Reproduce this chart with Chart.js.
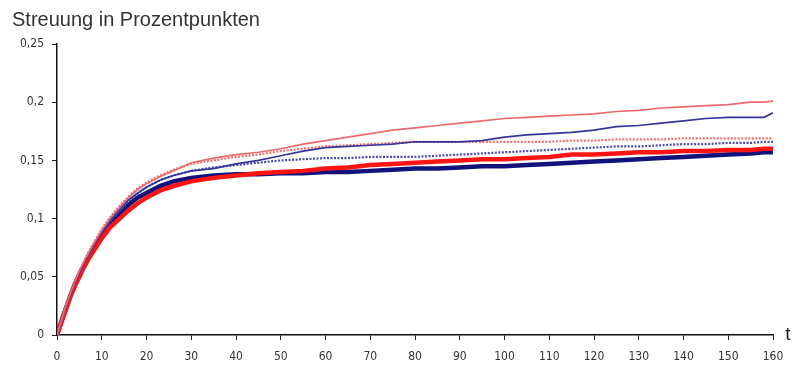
<!DOCTYPE html>
<html>
<head>
<meta charset="utf-8">
<script src="https://cdn.jsdelivr.net/npm/chart.js@4/dist/chart.umd.min.js"></script>
<style>
html,body{margin:0;padding:0;background:#fff;}
#wrap{width:796px;height:367px;}
</style>
</head>
<body>
<div id="wrap"><canvas id="c" width="796" height="367"></canvas></div>
<script>
const titleText = 'Streuung in Prozentpunkten';
const xAxisLabel = 't';
const yTickLabels = ['0', '0,05', '0,1', '0,15', '0,2', '0,25'];
const tValues = [0,1,2,3,4,5,6,7,8,10,12,14,16,18,20,23,26,30,35,40,45,50,55,60,65,70,75,80,85,90,95,100,105,110,115,120,125,130,135,140,145,150,155,158,160];

const redThin = [0,.013,.025,.036,.046,.055,.063,.070,.077,.090,.101,.110,.118,.125,.130,.136,.141,.148,
  .152,.155,.157,.160,.164,.167,.170,.173,.176,.178,.180,.182,.184,.186,.187,.188,.189,.190,.192,.193,.195,.196,.197,.198,.200,.200,.201];
const blueThin = [0,.013,.024,.035,.045,.054,.062,.069,.076,.088,.099,.108,.116,.122,.127,.133,.137,.141,
  .143,.147,.150,.154,.158,.161,.162,.163,.164,.166,.166,.166,.167,.170,.172,.173,.174,.176,.179,.180,.182,.184,.186,.187,.187,.187,.191];
const redDotted = [0,.013,.025,.036,.046,.055,.063,.071,.078,.091,.102,.111,.119,.126,.131,.137,.142,.147,
  .150,.153,.155,.158,.160,.162,.163,.164,.165,.166,.166,.166,.166,.166,.166,.166,.167,.167,.168,.168,.168,.169,.169,.169,.169,.169,.169];
const blueDotted = [0,.012,.024,.035,.045,.053,.061,.068,.075,.087,.098,.107,.115,.121,.127,.133,.137,.141,
  .144,.146,.148,.150,.151,.152,.152,.153,.153,.153,.154,.155,.156,.157,.158,.159,.160,.161,.162,.162,.163,.164,.164,.165,.165,.166,.166];
const redThick = [0,.011,.022,.033,.042,.050,.058,.065,.071,.083,.093,.100,.107,.113,.118,.124,.128,.132,
  .135,.137,.139,.140,.141,.143,.144,.146,.147,.148,.149,.150,.151,.151,.152,.153,.155,.155,.156,.157,.157,.158,.158,.159,.159,.160,.160];
const blueThick = [0,.012,.023,.034,.044,.052,.060,.067,.074,.086,.096,.104,.112,.118,.122,.128,.132,.135,
  .137,.138,.138,.139,.139,.140,.140,.141,.142,.143,.143,.144,.145,.145,.146,.147,.148,.149,.150,.151,.152,.153,.154,.155,.156,.157,.157];

function pts(arr){ return tValues.map((t,i)=>({x:t,y:arr[i]})); }

const tickFont = {family:"'Liberation Sans Narrow','DejaVu Sans Condensed','Liberation Sans',sans-serif", size:12};

const axisLabelPlugin = {
  id:'axisLabel',
  afterDraw(chart){
    const ctx = chart.ctx, a = chart.chartArea;
    ctx.save();
    ctx.font = "19px 'Liberation Sans', Arial, sans-serif";
    ctx.fillStyle = '#222';
    ctx.textAlign = 'center';
    ctx.textBaseline = 'middle';
    ctx.fillText(xAxisLabel, a.right + 15, a.bottom);
    ctx.restore();
  }
};

new Chart(document.getElementById('c'), {
  type:'line',
  data:{
    datasets:[
      {label:'A', data:pts(redThin), borderColor:'#ec6a6a', borderWidth:1.7},
      {label:'B', data:pts(blueThin), borderColor:'#35359a', borderWidth:1.7},
      {label:'C', data:pts(redDotted), borderColor:'#ee7070', borderWidth:2.2, borderDash:[2,1.5]},
      {label:'D', data:pts(blueDotted), borderColor:'#4a4aaa', borderWidth:2.2, borderDash:[2,1.5]},
      {label:'E', data:pts(redThick), borderColor:'#ff1414', borderWidth:4.5},
      {label:'F', data:pts(blueThick), borderColor:'#12127c', borderWidth:4.5}
    ]
  },
  options:{
    responsive:false,
    animation:false,
    layout:{padding:{left:12, right:23, top:0, bottom:0}},
    elements:{point:{radius:0}, line:{tension:0}},
    plugins:{
      legend:{display:false},
      tooltip:{enabled:false},
      title:{display:true, text:titleText, align:'start', color:'#333',
        font:{family:"'Liberation Sans', Arial, sans-serif", size:20, weight:'normal', lineHeight:1.2},
        padding:{top:8, bottom:12}}
    },
    scales:{
      x:{type:'linear', min:0, max:160,
        ticks:{stepSize:10, color:'#333', font:tickFont, padding:10, maxRotation:0, autoSkip:false},
        grid:{display:true, drawOnChartArea:false, drawTicks:true, tickLength:5, color:'#222'},
        border:{display:true, color:'#111', width:1.5},
        afterFit(s){ s.height = 32; }
      },
      y:{type:'linear', min:0, max:0.25,
        ticks:{stepSize:0.05, color:'#333', font:tickFont, padding:8,
          callback:(v,i)=>yTickLabels[i]},
        grid:{display:true, drawOnChartArea:false, drawTicks:true, tickLength:5, color:'#222'},
        border:{display:true, color:'#111', width:1.5},
        afterFit(s){ s.width = 45; }
      }
    }
  },
  plugins:[axisLabelPlugin]
});
</script>
</body>
</html>
